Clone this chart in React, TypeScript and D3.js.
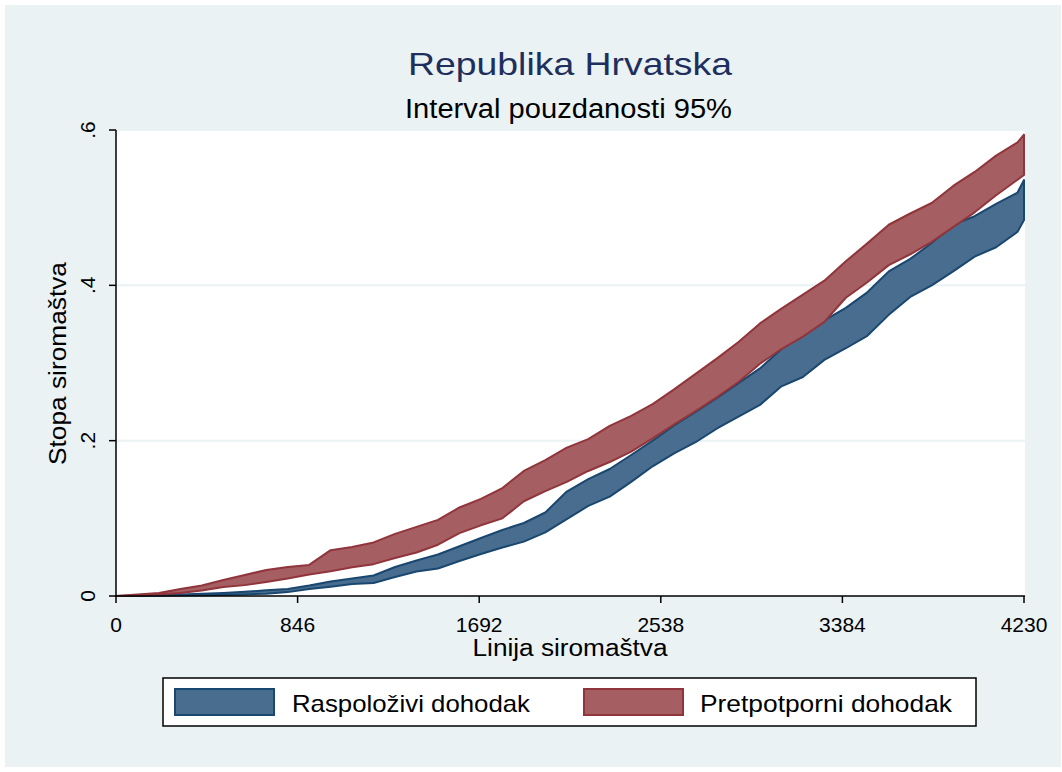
import React from "react";
import * as d3 from "d3";

const povertyLine = [0,100,200,300,400,500,600,700,800,900,1000,1100,1200,1300,1400,1500,1600,1700,1800,1900,2000,2100,2200,2300,2400,2500,2600,2700,2800,2900,3000,3100,3200,3300,3400,3500,3600,3700,3800,3900,4000,4100,4200,4230];

const raspolozLower = [0,0,0.0003,0.0006,0.0009,0.0013,0.002,0.003,0.005,0.009,0.012,0.0155,0.0167,0.0245,0.0315,0.0354,0.045,0.054,0.0625,0.070,0.082,0.099,0.116,0.128,0.147,0.167,0.1835,0.198,0.2157,0.231,0.246,0.270,0.282,0.304,0.319,0.335,0.362,0.385,0.400,0.418,0.437,0.449,0.469,0.484];
const raspolozUpper = [0,0.0006,0.0013,0.002,0.003,0.004,0.0055,0.0073,0.009,0.0135,0.0187,0.0225,0.0264,0.0373,0.0457,0.0534,0.064,0.0747,0.085,0.094,0.1075,0.1345,0.1506,0.1635,0.1815,0.200,0.2195,0.237,0.255,0.274,0.293,0.318,0.336,0.355,0.371,0.391,0.418,0.434,0.4545,0.478,0.489,0.505,0.5195,0.5356];
const pretpotLower = [0,0.0006,0.002,0.004,0.007,0.0116,0.014,0.018,0.0225,0.0277,0.032,0.037,0.041,0.049,0.056,0.066,0.081,0.091,0.100,0.122,0.135,0.147,0.161,0.1725,0.186,0.203,0.221,0.238,0.256,0.2755,0.299,0.318,0.334,0.353,0.384,0.404,0.426,0.440,0.456,0.475,0.494,0.516,0.536,0.542];
const pretpotUpper = [0,0.002,0.004,0.009,0.0135,0.0206,0.027,0.0335,0.0373,0.040,0.059,0.063,0.069,0.080,0.089,0.098,0.114,0.125,0.139,0.161,0.175,0.191,0.202,0.219,0.232,0.247,0.266,0.286,0.306,0.327,0.351,0.370,0.388,0.406,0.431,0.454,0.478,0.4925,0.506,0.528,0.546,0.567,0.584,0.594];

const xTicks = [0, 846, 1692, 2538, 3384, 4230];
const yTicks = [0, 0.2, 0.4, 0.6];
const yTickLabels = ["0", ".2", ".4", ".6"];

const titleText = "Republika Hrvatska";
const subtitleText = "Interval pouzdanosti 95%";
const xTitle = "Linija siromaštva";
const yTitle = "Stopa siromaštva";
const legendLabels = ["Raspoloživi dohodak", "Pretpotporni dohodak"];

const BLUE_FILL = "#496d8e";
const BLUE_LINE = "#1a476f";
const RED_FILL = "#a55e62";
const RED_LINE = "#90353b";
const BG = "#eaf2f3";
const FONT = "'Liberation Sans', Arial, Helvetica, sans-serif";

export default function App() {
  const W = 1062, H = 772;
  const x = d3.scaleLinear().domain([0, 4230]).range([116, 1024]);
  const y = d3.scaleLinear().domain([0, 0.6]).range([596, 130]);

  const band = (lo: number[], hi: number[]) =>
    d3.area<number>()
      .x((_, i) => x(povertyLine[i]))
      .y0((_, i) => y(lo[i]))
      .y1((_, i) => y(hi[i]))(povertyLine.map((_, i) => i)) || "";

  const blueD = band(raspolozLower, raspolozUpper);
  const redD = band(pretpotLower, pretpotUpper);

  return (
    <div style={{ position: "absolute", left: 0, top: 0 }}>
      <svg width={W} height={H} style={{ display: "block" }}>
        <rect x={0} y={0} width={W} height={H} fill="#ffffff" />
        <rect x={5} y={5} width={1056} height={762} fill={BG} />
        <rect x={116} y={130} width={909} height={466} fill="#ffffff" />
        {yTicks.slice(1).map((t) => (
          <line key={"g" + t} x1={116} x2={1025} y1={y(t)} y2={y(t)} stroke={BG} strokeWidth={2} />
        ))}
        <path d={blueD} fill={BLUE_FILL} stroke={BLUE_LINE} strokeWidth={2} strokeLinejoin="round" />
        <path d={redD} fill={RED_FILL} stroke={RED_LINE} strokeWidth={2} strokeLinejoin="round" />
        {/* y axis */}
        <line x1={116} x2={116} y1={y(0.6)} y2={y(0) + 1} stroke="#000" strokeWidth={1.5} />
        {yTicks.map((t, i) => (
          <g key={"yt" + t}>
            <line x1={109} x2={116} y1={y(t)} y2={y(t)} stroke="#000" strokeWidth={1.5} />
            <text
              transform={`translate(95,${y(t)}) rotate(-90)`}
              textAnchor="middle"
              fontFamily={FONT}
              fontSize={21}
              fill="#000"
            >
              {yTickLabels[i]}
            </text>
          </g>
        ))}
        {/* x axis */}
        <line x1={115} x2={1025} y1={596} y2={596} stroke="#000" strokeWidth={1.5} />
        {xTicks.map((t) => (
          <g key={"xt" + t}>
            <line x1={x(t)} x2={x(t)} y1={596} y2={603} stroke="#000" strokeWidth={1.5} />
            <text x={x(t)} y={632} textAnchor="middle" fontFamily={FONT} fontSize={21} fill="#000">
              {t}
            </text>
          </g>
        ))}
        <text x={570} y={656} textAnchor="middle" fontFamily={FONT} fontSize={23} fill="#000"
          textLength={195} lengthAdjust="spacingAndGlyphs">
          {xTitle}
        </text>
        <text
          transform={`translate(66,363.5) rotate(-90)`}
          textAnchor="middle"
          fontFamily={FONT}
          fontSize={23}
          fill="#000"
          textLength={203}
          lengthAdjust="spacingAndGlyphs"
        >
          {yTitle}
        </text>
        <text x={570} y={75} textAnchor="middle" fontFamily={FONT} fontSize={32} fill="#1e2f5e"
          textLength={324} lengthAdjust="spacingAndGlyphs">
          {titleText}
        </text>
        <text x={568.5} y={118} textAnchor="middle" fontFamily={FONT} fontSize={27} fill="#000"
          textLength={327} lengthAdjust="spacingAndGlyphs">
          {subtitleText}
        </text>
        {/* legend */}
        <rect x={163} y={678} width={813} height={48} fill="#ffffff" stroke="#000" strokeWidth={1.5} />
        <rect x={175} y={689} width={99} height={26} fill={BLUE_FILL} stroke={BLUE_LINE} strokeWidth={2} />
        <text x={292} y={712} fontFamily={FONT} fontSize={24} fill="#000"
          textLength={238} lengthAdjust="spacingAndGlyphs">{legendLabels[0]}</text>
        <rect x={584} y={689} width={99} height={26} fill={RED_FILL} stroke={RED_LINE} strokeWidth={2} />
        <text x={700} y={712} fontFamily={FONT} fontSize={24} fill="#000"
          textLength={252} lengthAdjust="spacingAndGlyphs">{legendLabels[1]}</text>
      </svg>
    </div>
  );
}
